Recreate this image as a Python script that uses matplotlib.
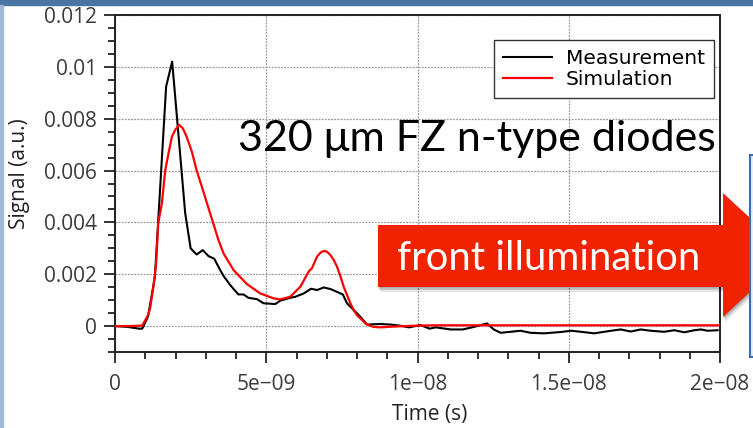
import matplotlib
matplotlib.use("Agg")
import matplotlib.pyplot as plt
import matplotlib.patches as patches
from matplotlib.ticker import MultipleLocator

# measured pulse (time in ns, signal in a.u.)
meas_t = [0.0, 0.4, 0.8, 0.9, 1.09, 1.32, 1.69, 1.89, 2.32, 2.5, 2.7, 2.9, 3.09,
          3.28, 3.45, 3.59, 3.81, 4.08, 4.25, 4.41, 4.69, 4.91, 5.3, 5.46, 5.79,
          5.96, 6.24, 6.48, 6.68, 6.9, 7.12, 7.34, 7.53, 7.67, 7.89, 8.11, 8.33,
          8.77, 9.1, 9.4, 9.72, 10.1, 10.4, 10.6, 11.1, 11.5, 11.8, 12.3, 12.52,
          12.75, 13.08, 13.41, 13.74, 14.18, 14.73, 15.07, 15.4, 15.84, 16.4,
          16.72, 17.05, 17.38, 17.71, 18.15, 18.49, 18.82, 19.15, 19.37, 19.59,
          19.92]
meas_v = [0.0, -0.00003, -0.0001, -0.0001, 0.00036, 0.0019, 0.00924, 0.0102,
          0.00436, 0.0030, 0.00276, 0.00293, 0.0027, 0.0026, 0.00222, 0.00193,
          0.00158, 0.00122, 0.00122, 0.00109, 0.00104, 0.00088, 0.00085, 0.00098,
          0.00109, 0.00113, 0.00126, 0.00144, 0.00139, 0.00149, 0.00143, 0.00132,
          0.00122, 0.00088, 0.00062, 0.00036, 0.00006, 0.00008, 0.00006, 0.00002,
          -0.00005, 0.00004, -0.0001, -0.00005, -0.00013, -0.00013, -0.00005,
          0.0001, -0.00013, -0.00026, -0.00022, -0.00018, -0.00026, -0.00028,
          -0.00023, -0.00018, -0.00022, -0.00028, -0.00018, -0.00013, -0.00021,
          -0.00013, -0.00018, -0.00022, -0.00016, -0.00024, -0.00016, -0.00013,
          -0.00018, -0.00016]

# simulated pulse
sim_t = [0.0, 0.5, 0.9, 1.09, 1.16, 1.27, 1.36, 1.43, 1.55, 1.66, 1.77, 1.88,
         1.99, 2.12, 2.24, 2.37, 2.54, 2.7, 2.87, 3.04, 3.23, 3.42, 3.59, 3.92,
         4.36, 4.8, 5.24, 5.46, 5.79, 6.13, 6.4, 6.51, 6.68, 6.79, 6.9, 7.01,
         7.12, 7.23, 7.34, 7.45, 7.56, 7.67, 7.78, 7.89, 8.0, 8.17, 8.28, 8.44,
         8.55, 8.77, 9.2, 9.8, 10.5, 12.0, 15.0, 20.0]
sim_v = [0.0, 0.0, 0.00002, 0.00042, 0.00068, 0.00152, 0.00242, 0.00398,
         0.00474, 0.006, 0.00667, 0.0073, 0.00757, 0.00776, 0.00763, 0.0073,
         0.00673, 0.006, 0.00538, 0.00474, 0.00403, 0.00332, 0.0028, 0.00216,
         0.00162, 0.00126, 0.00107, 0.00103, 0.00113, 0.00152, 0.0021, 0.00223,
         0.00268, 0.00283, 0.0029, 0.00287, 0.00274, 0.00255, 0.00229, 0.00193,
         0.00152, 0.0012, 0.00088, 0.00062, 0.00042, 0.00023, 0.0001, 0.00001,
         -0.00003, -0.00005, -0.00002, 0.00001, 0.00003, 0.00003, 0.00003,
         0.00003]

x_ticks = [0, 5e-9, 1e-8, 1.5e-8, 2e-8]
x_ticklabels = ["0", "5e\u221209", "1e\u221208", "1.5e\u221208", "2e\u221208"]
y_ticks = [0, 0.002, 0.004, 0.006, 0.008, 0.01, 0.012]
y_ticklabels = ["0", "0.002", "0.004", "0.006", "0.008", "0.01", "0.012"]

W, H = 753, 428
fig = plt.figure(figsize=(W / 100, H / 100), dpi=100)
fig.patch.set_facecolor("white")


def fy(y):
    # pixel row from the top -> figure fraction
    return 1 - y / H


ax = fig.add_axes([115 / W, fy(352), (720 - 115) / W, (352 - 15) / H])
ax.plot([t * 1e-9 for t in meas_t], meas_v, color="black", lw=1.5,
        label="Measurement", zorder=3)
ax.plot([t * 1e-9 for t in sim_t], sim_v, color="#ff0000", lw=1.6,
        label="Simulation", zorder=3)

ax.set_xlim(0, 2e-8)
ax.set_ylim(-0.001, 0.012)
ax.set_xticks(x_ticks)
ax.set_xticklabels(x_ticklabels)
ax.set_yticks(y_ticks)
ax.set_yticklabels(y_ticklabels)
ax.xaxis.set_minor_locator(MultipleLocator(1e-9))
ax.yaxis.set_minor_locator(MultipleLocator(0.0005))
ax.tick_params(which="both", direction="out", top=False, right=False,
               width=1.3, color="#222222", labelcolor="#3c3c3c")
ax.tick_params(which="major", length=8, labelsize=15)
ax.tick_params(axis="y", which="major", pad=5)
ax.tick_params(axis="x", which="major", pad=8)
ax.tick_params(which="minor", length=5)
for lab in ax.get_xticklabels() + ax.get_yticklabels():
    lab.set_family("Open Sans")
for s in ax.spines.values():
    s.set_linewidth(1.4)
    s.set_color("#222222")
ax.grid(True, which="major", color="#9a9a9a", ls=(0, (1.5, 1.0)), lw=0.9)

ax.set_xlabel("Time (s)", family="Open Sans", fontsize=15, color="#222222")
ax.xaxis.set_label_coords(0.52, -0.155)
ax.set_ylabel("Signal (a.u.)", family="Open Sans", fontsize=15,
              color="#222222")
ax.yaxis.set_label_coords(-0.14, 0.53)

leg = ax.legend(loc="upper right", bbox_to_anchor=(0.99, 0.926),
                borderaxespad=0, fancybox=False, framealpha=1,
                edgecolor="#333333",
                prop={"family": "DejaVu Sans", "size": 14.5},
                handlelength=2.4, handletextpad=0.7, borderpad=0.45,
                labelspacing=0.1)
leg.get_frame().set_linewidth(1.0)

# slide decorations around the plot
fig.patches.append(patches.Rectangle((0, fy(5)), 1, 5 / H, color="#4a74a4",
                                     transform=fig.transFigure, zorder=5))
fig.patches.append(patches.Rectangle((0, 0), 3 / W, fy(5), color="#9db8d8",
                                     transform=fig.transFigure, zorder=5))

arrow_px = [(378, 225), (723, 225), (723, 193), (790, 255), (723, 317),
            (723, 287), (378, 287)]
for off, a in [(5, 0.10), (3, 0.12), (1.5, 0.15)]:
    fig.patches.append(patches.Polygon(
        [((x + off * 0.4) / W, fy(y + off)) for x, y in arrow_px],
        closed=True, color="black", alpha=a, lw=0,
        transform=fig.transFigure, zorder=6))
fig.patches.append(patches.Polygon([(x / W, fy(y)) for x, y in arrow_px],
                                   closed=True, color="#f02200", lw=0,
                                   transform=fig.transFigure, zorder=7))
fig.patches.append(patches.Rectangle((749.5 / W, fy(357)), 10 / W,
                                     (357 - 155) / H, facecolor="#e9eef7",
                                     edgecolor="#3b6cb0", lw=1.5,
                                     transform=fig.transFigure, zorder=8))

fig.text(397 / W, fy(259), "front illumination", color="white",
         family=["Lato", "DejaVu Sans"], fontsize=28.8, va="center", ha="left",
         zorder=9)
fig.text(477 / W, fy(139), "320 \u03bcm FZ n-type diodes", color="black",
         family=["Lato", "DejaVu Sans"], fontsize=31, va="center",
         ha="center", zorder=9)

fig.savefig("out.png", dpi=100)
